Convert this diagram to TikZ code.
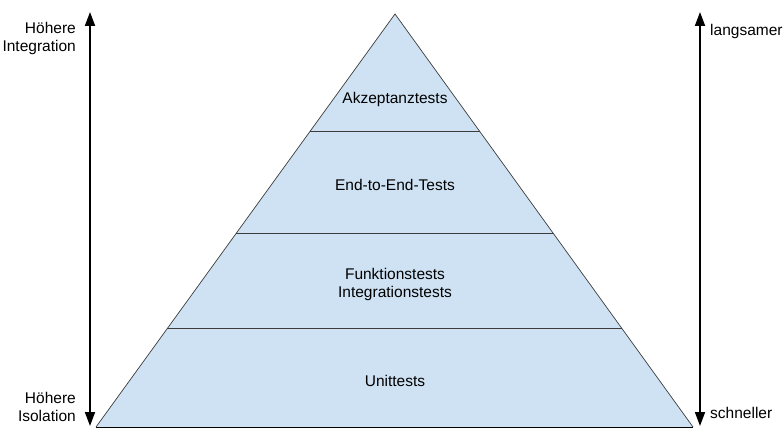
\documentclass[tikz,border=0pt]{standalone}
\usepackage{fontspec}
\setmainfont{Liberation Sans}
\usetikzlibrary{arrows.meta}
\definecolor{pyrfill}{HTML}{CFE2F3}
\definecolor{pyrline}{HTML}{3C3C3C}
\tikzset{
  lbl/.style={font=\fontsize{15.5}{18}\selectfont, inner sep=0pt, align=center},
  axis/.style={line width=1.8pt, {Triangle[width=10pt,length=14pt]}-{Triangle[width=10pt,length=14pt]}},
  layer/.style={draw=pyrline, line width=0.8pt},
}
\begin{document}
\begin{tikzpicture}[x=1pt,y=-1pt]
\useasboundingbox (0,0) rectangle (783,433);
% pyramid
\coordinate (apex) at (395,14);
\coordinate (bl) at (96,427);
\coordinate (br) at (693,427);
\fill[pyrfill] (apex) -- (bl) -- (br) -- cycle;
\draw[pyrline, line width=0.7pt] (bl) -- (apex) -- (br);
\draw[black, line width=0.8pt] (bl) -- (br);
\coordinate (l1a) at (310,131); \coordinate (l1b) at (480,131);
\coordinate (l2a) at (236,233); \coordinate (l2b) at (553,233);
\coordinate (l3a) at (167,328); \coordinate (l3b) at (622,328);
\draw[layer] (l1a) -- (l1b);
\draw[layer] (l2a) -- (l2b);
\draw[layer] (l3a) -- (l3b);
% labels inside
\node[lbl] (akz) at (395,99) {Akzeptanztests};
\node[lbl] (e2e) at (395,185) {End-to-End-Tests};
\node[lbl] (fun) at (395,284) {Funktionstests\\Integrationstests};
\node[lbl] (unit) at (395,381) {Unittests};
% left axis
\coordinate (lt) at (90,12);
\coordinate (lb) at (90,426);
\draw[axis] (lb) -- (lt);
\node[lbl, align=right, anchor=east] (hi) at (76,38) {Höhere\\Integration};
\node[lbl, align=right, anchor=east] (iso) at (76,407) {Höhere\\Isolation};
% right axis
\coordinate (rt) at (700,12);
\coordinate (rb) at (700,426);
\draw[axis] (rb) -- (rt);
\node[lbl, anchor=west] (slow) at (710,31) {langsamer};
\node[lbl, anchor=west] (fast) at (710,413) {schneller};
\end{tikzpicture}
\end{document}
